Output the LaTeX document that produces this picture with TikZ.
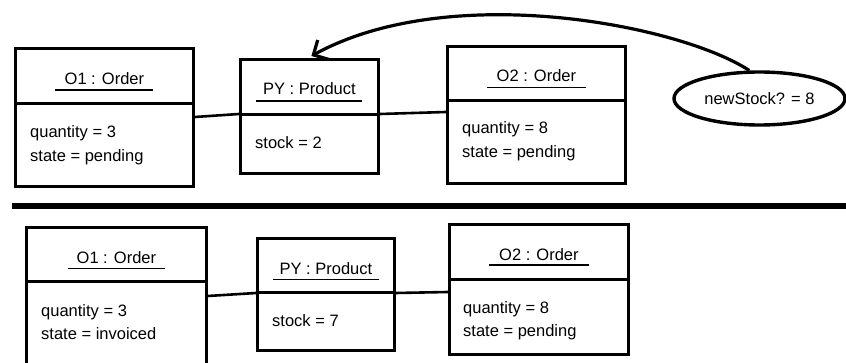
\documentclass[tikz,border=0pt]{standalone}
\usepackage{fontspec}
\setmainfont{Liberation Sans}
\usetikzlibrary{arrows.meta,shapes.geometric}
\begin{document}
\begin{tikzpicture}[x=1pt,y=-1pt,
  part/.style={draw,line width=2.8pt,anchor=north west,inner sep=0pt},
  ttl/.style={inner sep=0pt,font=\fontsize{16.5}{20}\selectfont},
  attr/.style={inner sep=0pt,anchor=west,text height=11.8pt,text depth=3.5pt,font=\fontsize{16.5}{20}\selectfont},
  uline/.style={line width=1.3pt},
  link/.style={line width=2.6pt},
  sep/.style={line width=6pt},
  msg/.style={draw,ellipse,line width=3.4pt,minimum width=171pt,minimum height=53pt,inner sep=0pt,font=\fontsize{16.5}{20}\selectfont},
  arc/.style={line width=3.2pt,-{Straight Barb[length=11pt,width=22pt]}}
]
\clip (0,0) rectangle (846,363);
% ---------- top state ----------
\node[part,minimum width=178pt,minimum height=55pt] (o1h) at (14,47) {};
\node[part,minimum width=178pt,minimum height=83pt] (o1b) at (14,102) {};
\node[ttl] (o1t) at ([yshift=-3pt]o1h.center) {O1 : Order};
\draw[uline] ([xshift=-49pt,yshift=-14pt]o1h.center) -- ([xshift=49pt,yshift=-14pt]o1h.center);
\node[attr] (o1q) at ([xshift=16pt,yshift=-31pt]o1b.north west) {quantity = 3};
\node[attr] (o1s) at ([xshift=16pt,yshift=-55pt]o1b.north west) {state = pending};

\node[part,minimum width=138pt,minimum height=55pt] (pyh) at (239,58) {};
\node[part,minimum width=138pt,minimum height=59pt] (pyb) at (239,113) {};
\node[ttl] (pyt) at ([yshift=-2pt]pyh.center) {PY : Product};
\draw[uline] ([xshift=-53pt,yshift=-14pt]pyh.center) -- ([xshift=53pt,yshift=-14pt]pyh.center);
\node[attr] (pys) at ([xshift=16pt,yshift=-31pt]pyb.north west) {stock = 2};

\node[part,minimum width=178pt,minimum height=54pt] (o2h) at (446,45) {};
\node[part,minimum width=178pt,minimum height=83pt] (o2b) at (446,99) {};
\node[ttl] (o2t) at ([yshift=-2.5pt]o2h.center) {O2 : Order};
\draw[uline] ([xshift=-49.5pt,yshift=-14pt]o2h.center) -- ([xshift=49.5pt,yshift=-14pt]o2h.center);
\node[attr] (o2q) at ([xshift=16pt,yshift=-30pt]o2b.north west) {quantity = 8};
\node[attr] (o2s) at ([xshift=16pt,yshift=-54pt]o2b.north west) {state = pending};

\draw[link] ([yshift=-15pt]o1b.north east) -- ([yshift=-1pt]pyb.north west);
\draw[link] ([yshift=-1pt]pyb.north east) -- ([yshift=-13pt]o2b.north west);

\node[msg] (ns) at (759.5,98.5) {newStock? = 8};
\draw[arc] (ns.110) .. controls (680,25) and (450,-20) .. ([xshift=2pt,yshift=2pt]pyh.north);

% ---------- separator ----------
\coordinate (sepl) at (12,206);
\coordinate (sepr) at (852,206);
\draw[sep] (sepl) -- (sepr);

% ---------- bottom state ----------
\node[part,minimum width=180pt,minimum height=54pt] (p1h) at (25,226) {};
\node[part,minimum width=180pt,minimum height=90pt] (p1b) at (25,280) {};
\node[ttl] (p1t) at ([yshift=-3.5pt]p1h.center) {O1 : Order};
\draw[uline] ([xshift=-48.5pt,yshift=-14pt]p1h.center) -- ([xshift=48.5pt,yshift=-14pt]p1h.center);
\node[attr] (p1q) at ([xshift=16pt,yshift=-32pt]p1b.north west) {quantity = 3};
\node[attr] (p1s) at ([xshift=16pt,yshift=-55pt]p1b.north west) {state = invoiced};

\node[part,minimum width=137pt,minimum height=54pt] (qyh) at (256,237) {};
\node[part,minimum width=137pt,minimum height=58pt] (qyb) at (256,291) {};
\node[ttl] (qyt) at ([yshift=-3pt]qyh.center) {PY : Product};
\draw[uline] ([xshift=-53pt,yshift=-14pt]qyh.center) -- ([xshift=53pt,yshift=-14pt]qyh.center);
\node[attr] (qys) at ([xshift=16pt,yshift=-31pt]qyb.north west) {stock = 7};

\node[part,minimum width=179pt,minimum height=55pt] (p2h) at (448,223) {};
\node[part,minimum width=179pt,minimum height=75pt] (p2b) at (448,278) {};
\node[ttl] (p2t) at ([yshift=-2.5pt]p2h.center) {O2 : Order};
\draw[uline] ([xshift=-50pt,yshift=-13pt]p2h.center) -- ([xshift=50pt,yshift=-13pt]p2h.center);
\node[attr] (p2q) at ([xshift=15pt,yshift=-31pt]p2b.north west) {quantity = 8};
\node[attr] (p2s) at ([xshift=15pt,yshift=-54pt]p2b.north west) {state = pending};

\draw[link] ([yshift=-16pt]p1b.north east) -- ([yshift=-2pt]qyb.north west);
\draw[link] ([yshift=-2pt]qyb.north east) -- ([yshift=-14pt]p2b.north west);
\end{tikzpicture}
\end{document}
